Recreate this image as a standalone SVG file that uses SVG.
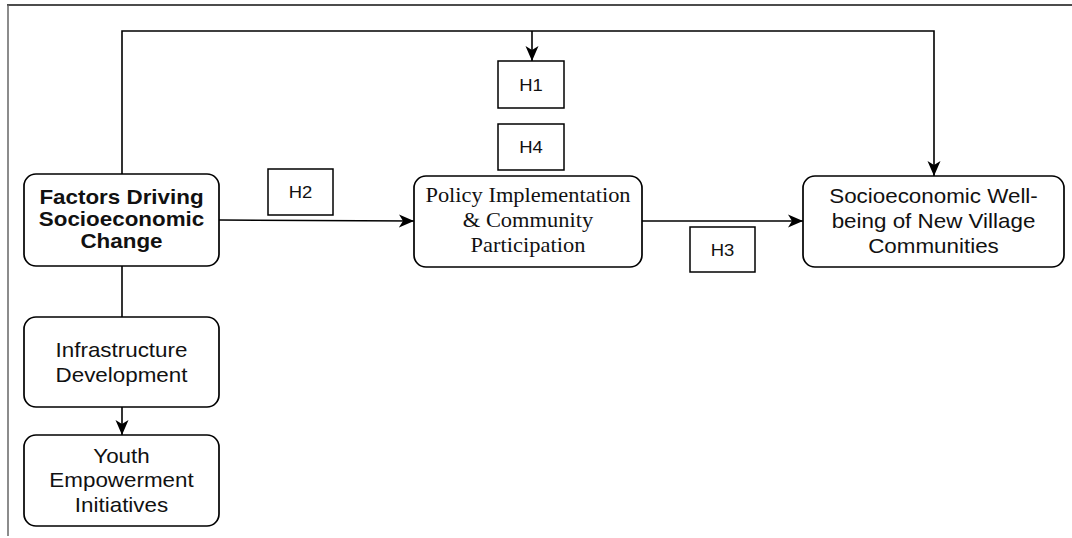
<svg xmlns="http://www.w3.org/2000/svg" width="1072" height="538" viewBox="0 0 1072 538">
<defs>
<marker id="arr" markerUnits="userSpaceOnUse" markerWidth="16" markerHeight="14" viewBox="0 0 16 14" refX="15" refY="7" orient="auto">
<path d="M0,0.5 L15,7 L0,13.5 L4,7 Z" fill="#000"/>
</marker>
<style>
.box{fill:#fff;stroke:#000;stroke-width:1.7}
.hbox{fill:#fff;stroke:#000;stroke-width:1.5}
.ln{fill:none;stroke:#000;stroke-width:1.6}
.sans{font-family:"Liberation Sans",Arial,sans-serif;font-size:20px;fill:#111;text-anchor:middle}
.bold{font-weight:bold}
.serif{font-family:"Liberation Serif","Times New Roman",serif;font-size:21px;fill:#111;text-anchor:middle}
.h{font-family:"Liberation Sans",Arial,sans-serif;font-size:16.5px;fill:#111;text-anchor:middle}
</style>
</defs>
<rect width="1072" height="538" fill="#fff"/>
<g id="frame">
<line x1="7" y1="5" x2="1072" y2="5" stroke="#111" stroke-width="1.5"/>
<line x1="8" y1="5" x2="8" y2="536" stroke="#666" stroke-width="1.5"/>
</g>
<g id="connectors">
<path class="ln" d="M122,174 V31 H934 V176" marker-end="url(#arr)"/>
<path class="ln" d="M532,31 V61" marker-end="url(#arr)"/>
<path class="ln" d="M219,220 L414,221" marker-end="url(#arr)"/>
<path class="ln" d="M642,221 H803" marker-end="url(#arr)"/>
<path class="ln" d="M122,266 V317"/>
<path class="ln" d="M122,407 V435" marker-end="url(#arr)"/>
</g>
<g id="factors">
<rect class="box" x="24" y="174" width="195" height="92" rx="12"/>
<text class="sans bold" transform="matrix(1.12 0 0 1 121.5 0)"><tspan x="0" y="204">Factors Driving</tspan><tspan x="0" y="226">Socioeconomic</tspan><tspan x="0" y="248">Change</tspan></text>
</g>
<g id="policy">
<rect class="box" x="414" y="176" width="228" height="91" rx="12"/>
<text class="serif" transform="matrix(1.07 0 0 1 528 0)"><tspan x="0" y="202">Policy Implementation</tspan><tspan x="0" y="227">&amp; Community</tspan><tspan x="0" y="252">Participation</tspan></text>
</g>
<g id="wellbeing">
<rect class="box" x="803" y="176" width="261" height="91" rx="12"/>
<text class="sans" transform="matrix(1.12 0 0 1 933.5 0)"><tspan x="0" y="203">Socioeconomic Well-</tspan><tspan x="0" y="228">being of New Village</tspan><tspan x="0" y="253">Communities</tspan></text>
</g>
<g id="infrastructure">
<rect class="box" x="24" y="317" width="195" height="90" rx="12"/>
<text class="sans" transform="matrix(1.12 0 0 1 121.5 0)"><tspan x="0" y="357">Infrastructure</tspan><tspan x="0" y="382">Development</tspan></text>
</g>
<g id="youth">
<rect class="box" x="24" y="435" width="195" height="91" rx="12"/>
<text class="sans" transform="matrix(1.12 0 0 1 121.5 0)"><tspan x="0" y="463">Youth</tspan><tspan x="0" y="487">Empowerment</tspan><tspan x="0" y="512">Initiatives</tspan></text>
</g>
<g id="h1">
<rect class="hbox" x="498" y="61" width="66" height="47"/>
<text class="h" transform="matrix(1.12 0 0 1 531 0)" x="0" y="91">H1</text>
</g>
<g id="h4">
<rect class="hbox" x="498" y="124" width="66" height="46"/>
<text class="h" transform="matrix(1.12 0 0 1 531 0)" x="0" y="153">H4</text>
</g>
<g id="h2">
<rect class="hbox" x="268" y="169" width="65" height="46"/>
<text class="h" transform="matrix(1.12 0 0 1 300.5 0)" x="0" y="198">H2</text>
</g>
<g id="h3">
<rect class="hbox" x="690" y="227" width="65" height="45"/>
<text class="h" transform="matrix(1.12 0 0 1 722.5 0)" x="0" y="256">H3</text>
</g>
</svg>
